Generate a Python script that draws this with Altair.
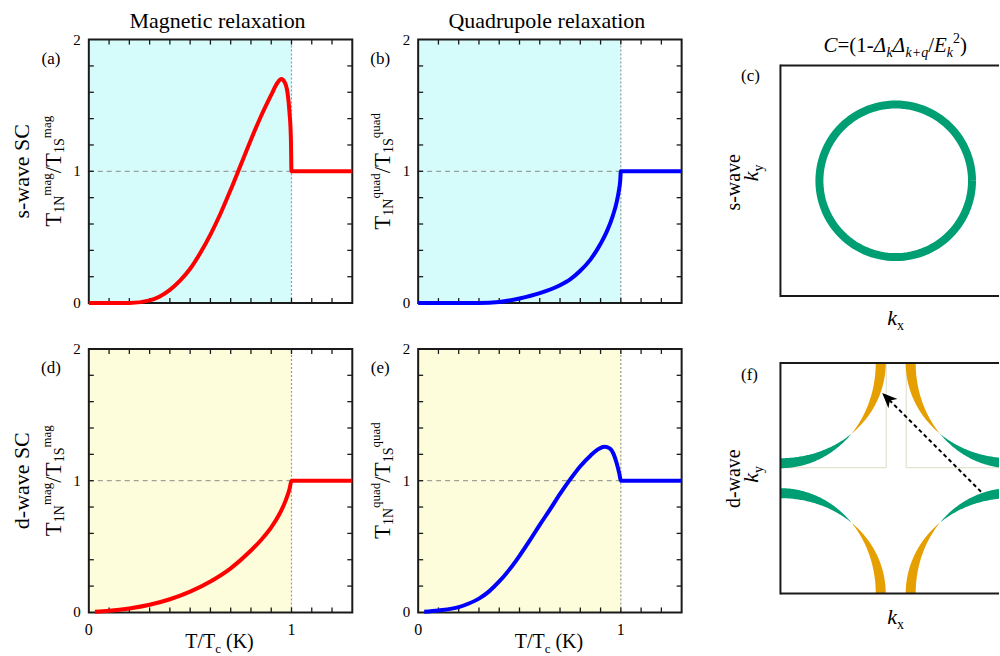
import numpy as np
import pandas as pd
import altair as alt

SERIF = "Liberation Serif"
RED, BLUE = "#ff0000", "#0000ff"
GREEN, ORANGE = "#009e73", "#e69f00"
CYAN_BG, YELLOW_BG = "#d6fbfb", "#fdfddb"
INK = "#1a1a1a"

# ---- relaxation-rate ratios T1N/T1S versus T/Tc ----
a_x = [0.0, 0.2, 0.3, 0.35, 0.4, 0.45, 0.5, 0.55, 0.6, 0.65, 0.7, 0.75, 0.8, 0.85,
       0.9, 0.93, 0.95, 0.965, 0.98, 0.99, 0.997, 1.0, 1.3]
a_y = [0.0, 0.0, 0.02, 0.05, 0.1, 0.17, 0.26, 0.38, 0.52, 0.68, 0.86, 1.05, 1.24, 1.42,
       1.58, 1.67, 1.70, 1.68, 1.6, 1.45, 1.25, 1.0, 1.0]

b_x = [0.0, 0.3, 0.4, 0.5, 0.6, 0.7, 0.75, 0.8, 0.85, 0.9, 0.93, 0.96, 0.98, 0.99,
       0.997, 1.0, 1.3]
b_y = [0.0, 0.0, 0.008, 0.035, 0.075, 0.135, 0.18, 0.245, 0.33, 0.45, 0.54, 0.66, 0.77,
       0.85, 0.93, 1.0, 1.0]

d_x = [0.03, 0.1, 0.2, 0.3, 0.4, 0.5, 0.6, 0.7, 0.8, 0.85, 0.9, 0.94, 0.97, 0.99, 1.0, 1.3]
d_y = [0.005, 0.012, 0.03, 0.058, 0.1, 0.158, 0.235, 0.335, 0.47, 0.55, 0.645, 0.745,
       0.845, 0.935, 1.0, 1.0]

e_x = [0.03, 0.1, 0.2, 0.25, 0.3, 0.35, 0.4, 0.45, 0.5, 0.55, 0.6, 0.65, 0.7, 0.75, 0.8,
       0.85, 0.89, 0.92, 0.945, 0.965, 0.98, 0.993, 1.0, 1.3]
e_y = [0.005, 0.015, 0.04, 0.068, 0.105, 0.16, 0.235, 0.325, 0.43, 0.545, 0.665, 0.78,
       0.9, 1.01, 1.11, 1.19, 1.24, 1.257, 1.245, 1.2, 1.13, 1.05, 1.0, 1.0]

X_MAX_T, Y_MAX_T, TC = 1.3, 2.0, 1.0
TICK_X = [round(0.1 * i, 1) for i in range(1, 13)]
TICK_Y = [round(0.2 * i, 1) for i in range(1, 10)]
Y_LABELS = [0, 1, 2]
X_LABELS = [0, 1]

# ---- k-space sketches (square Brillouin zone from -1 to 1) ----
K_XDOM = [-1.2857, 0.8961]
C_YDOM = [-1.0606, 1.2251]
F_YDOM = [-1.1645, 1.1212]
RING_R = 0.662
ARC_R = 0.87
Q_TAIL = (0.74, -0.117)
Q_TIP = (-0.117, 0.74)
TILE_X = [-0.082, 0.091]
TILE_Y = 0.091

PW = PH = 264
KW = 252

ADV = {'T': .611, '1': .5, 'N': .722, 'S': .556, 'm': .778, 'a': .444, 'g': .5,
       'q': .5, 'u': .5, 'd': .5, '/': .278, 'c': .444, ' ': .25, '(': .333,
       ')': .333, 'K': .722, 'k': .444, 'y': .444, 'x': .444, 'C': .667,
       '=': .564, '-': .333, 'Δ': .612, '+': .675, 'E': .611, '2': .5}


def rich(segs, x, y, angle=0):
    """Inline text runs with sub/superscripts; x,y = centre along the run / baseline."""
    widths = [sum(ADV.get(ch, .5) for ch in t) * s for t, s, _, _ in segs]
    pos = -sum(widths) / 2
    out = []
    for (t, s, sh, it), w in zip(segs, widths):
        lead = (len(t) - len(t.lstrip(" "))) * ADV[" "] * s
        p = pos + lead
        if angle == 0:
            px, py = x + p, y + sh
        else:
            px, py = x + sh, y - p
        out.append(
            alt.Chart(pd.DataFrame({"t": [t.strip()]}))
            .mark_text(align="left", baseline="alphabetic", font=SERIF, fontSize=s,
                       fontStyle="italic" if it else "normal", angle=angle, color="black")
            .encode(x=alt.value(px), y=alt.value(py), text="t:N")
        )
        pos += w
    return out


def label(text, x, y, size, angle=0, italic=False, align="center", baseline="middle"):
    return (
        alt.Chart(pd.DataFrame({"t": [text]}))
        .mark_text(align=align, baseline=baseline, font=SERIF, fontSize=size, angle=angle,
                   fontStyle="italic" if italic else "normal", color="black")
        .encode(x=alt.value(x), y=alt.value(y), text="t:N")
    )


def ytitle(kind):
    F, f, f2 = 23, 14, 13
    return [("T", F, 0, False), ("1N", f, 3, False), (kind, f2, -10, False),
            ("/T", F, 0, False), ("1S", f, 3, False), (kind, f2, -10, False)]


def t_panel(xs, ys, color, shade, kind, letter, bottom, title=None, row=None, anchors=()):
    xsc = alt.Scale(domain=[0, X_MAX_T], nice=False, zero=False)
    ysc = alt.Scale(domain=[0, Y_MAX_T], nice=False, zero=False)

    def X(f):
        return alt.X(f"{f}:Q", scale=xsc, axis=None)

    def Y(f):
        return alt.Y(f"{f}:Q", scale=ysc, axis=None)

    box = pd.DataFrame({"x1": [0], "x2": [TC], "y1": [0], "y2": [Y_MAX_T]})
    full = pd.DataFrame({"x1": [0], "x2": [X_MAX_T], "y1": [0], "y2": [Y_MAX_T]})
    layers = [
        alt.Chart(box).mark_rect(color=shade).encode(x=X("x1"), x2="x2:Q", y=Y("y1"), y2="y2:Q"),
        alt.Chart(pd.DataFrame({"x1": [0], "x2": [TC], "y": [1]}))
        .mark_rule(color="#8a8a8a", strokeWidth=1, strokeDash=[5, 4])
        .encode(x=X("x1"), x2="x2:Q", y=Y("y")),
        alt.Chart(pd.DataFrame({"x": [TC], "y1": [0], "y2": [Y_MAX_T]}))
        .mark_rule(color="#999999", strokeWidth=1.2, strokeDash=[2, 2])
        .encode(x=X("x"), y=Y("y1"), y2="y2:Q"),
        alt.Chart(full).mark_rect(filled=False, color=INK, strokeWidth=2)
        .encode(x=X("x1"), x2="x2:Q", y=Y("y1"), y2="y2:Q"),
    ]
    ty = pd.DataFrame({"v": TICK_Y})
    tx = pd.DataFrame({"v": TICK_X})
    tick = dict(color=INK, strokeWidth=1.3)
    layers += [
        alt.Chart(ty).mark_rule(**tick).encode(y=Y("v"), x=alt.value(0), x2=alt.value(5)),
        alt.Chart(ty).mark_rule(**tick).encode(y=Y("v"), x=alt.value(PW - 5), x2=alt.value(PW)),
        alt.Chart(tx).mark_rule(**tick).encode(x=X("v"), y=alt.value(PH), y2=alt.value(PH - 5)),
        alt.Chart(tx).mark_rule(**tick).encode(x=X("v"), y=alt.value(0), y2=alt.value(5)),
    ]
    # tick labels
    layers.append(
        alt.Chart(pd.DataFrame({"v": Y_LABELS, "t": [str(v) for v in Y_LABELS]}))
        .mark_text(align="right", baseline="middle", font=SERIF, fontSize=15, color="black")
        .encode(y=Y("v"), x=alt.value(-8), text="t:N")
    )
    if bottom:
        layers.append(
            alt.Chart(pd.DataFrame({"v": X_LABELS, "t": [str(v) for v in X_LABELS]}))
            .mark_text(align="center", baseline="alphabetic", font=SERIF, fontSize=16, color="black")
            .encode(x=X("v"), y=alt.value(PH + 23), text="t:N")
        )
    curve = pd.DataFrame({"x": xs, "y": ys, "i": range(len(xs))})
    layers.append(
        alt.Chart(curve).mark_line(color=color, strokeWidth=4, interpolate="monotone")
        .encode(x=X("x"), y=Y("y"), order="i:Q")
    )
    layers += rich(ytitle(kind), -28, PH / 2, angle=270)
    layers.append(label(f"({letter})", -38, 19, 17))
    if bottom:
        layers += rich([("T/T", 20, 0, False), ("c", 13, 5, False), (" (K)", 20, 0, False)],
                       131, 300)
    if title:
        layers.append(label(title, 129, -12, 22, baseline="alphabetic"))
    if row:
        layers.append(label(row, -60, PH / 2, 22, angle=270, baseline="alphabetic"))
    for ax, ay in anchors:
        layers.append(
            alt.Chart(pd.DataFrame({"t": [0]})).mark_rule(color="white", strokeWidth=1)
            .encode(x=alt.value(ax), x2=alt.value(ax + 1), y=alt.value(ay))
        )
    return alt.layer(*layers).properties(width=PW, height=PH)


def arcs_frame():
    rows = []
    xmax = K_XDOM[1]
    for cx in (-1, 1):
        for cy in (-1, 1):
            lo = 0.0
            if cx == 1:
                lo = np.degrees(np.arcsin((1 - xmax) / ARC_R))
            for part, a0, a1 in (("green", lo, 45.0), ("orange", max(lo, 45.0), 90.0)):
                if a1 <= a0:
                    continue
                for i, phi in enumerate(np.linspace(a0, a1, 60)):
                    p = np.radians(phi)
                    rows.append({
                        "x": cx * (1 - ARC_R * np.sin(p)),
                        "y": cy * (1 - ARC_R * np.cos(p)),
                        "w": abs(np.cos(2 * p)),
                        "part": part, "seg": f"{cx}{cy}{part}", "i": i,
                    })
    return pd.DataFrame(rows)


def k_panel(ydom, letter, wave, fermi, title=False):
    xmax = K_XDOM[1]
    xsc = alt.Scale(domain=K_XDOM, nice=False, zero=False)
    ysc = alt.Scale(domain=ydom, nice=False, zero=False)

    def X(f):
        return alt.X(f"{f}:Q", scale=xsc, axis=None)

    def Y(f):
        return alt.Y(f"{f}:Q", scale=ysc, axis=None)

    layers = []
    if fermi == "ring":
        th = np.radians(np.arange(0, 361, 3))
        ring = pd.DataFrame({"x": RING_R * np.cos(th), "y": RING_R * np.sin(th),
                             "i": range(len(th))})
        layers.append(
            alt.Chart(ring).mark_line(color=GREEN, strokeWidth=8, clip=True)
            .encode(x=X("x"), y=Y("y"), order="i:Q")
        )
    else:
        tiles = pd.DataFrame({
            "x1": [TILE_X[0], -1, TILE_X[1], TILE_X[1]],
            "x2": [TILE_X[0], TILE_X[0], TILE_X[1], xmax],
            "y1": [TILE_Y, TILE_Y, TILE_Y, TILE_Y],
            "y2": [1, TILE_Y, 1, TILE_Y],
        })
        layers.append(
            alt.Chart(tiles).mark_rule(color="#dcdcc6", strokeWidth=1, clip=True)
            .encode(x=X("x1"), x2="x2:Q", y=Y("y1"), y2="y2:Q")
        )
        layers.append(
            alt.Chart(arcs_frame()).mark_trail(clip=True)
            .encode(
                x=X("x"), y=Y("y"), order="i:Q", detail="seg:N",
                size=alt.Size("w:Q", scale=alt.Scale(domain=[0, 1], range=[0, 10]), legend=None),
                color=alt.Color("part:N", scale=alt.Scale(domain=["green", "orange"],
                                                          range=[GREEN, ORANGE]), legend=None),
            )
        )
        # blank out the band ends that poke past the zone boundary
        masks = pd.DataFrame({
            "x1": [K_XDOM[0], -1, -1], "x2": [-1, xmax, xmax],
            "y1": [ydom[0], 1, ydom[0]], "y2": [ydom[1], ydom[1], -1],
        })
        layers.append(
            alt.Chart(masks).mark_rect(color="white", clip=True)
            .encode(x=X("x1"), x2="x2:Q", y=Y("y1"), y2="y2:Q")
        )
        q = pd.DataFrame({"x1": [Q_TAIL[0]], "y1": [Q_TAIL[1]], "x2": [Q_TIP[0]], "y2": [Q_TIP[1]]})
        layers.append(
            alt.Chart(q).mark_rule(color="black", strokeWidth=2, strokeDash=[4, 3])
            .encode(x=X("x1"), y=Y("y1"), x2="x2:Q", y2="y2:Q")
        )
        layers.append(
            alt.Chart(pd.DataFrame({"x": [Q_TIP[0]], "y": [Q_TIP[1]]}))
            .mark_point(shape="M0,0L0.8,1.9L0,1.35L-0.8,1.9Z", filled=True, color="black",
                        opacity=1, size=256, angle=315, strokeWidth=0)
            .encode(x=X("x"), y=Y("y"))
        )
    frame = pd.DataFrame({"x1": [-1, -1], "x2": [xmax, xmax], "y1": [1, -1], "y2": [1, -1]})
    layers.append(
        alt.Chart(frame).mark_rule(color=INK, strokeWidth=2, clip=True)
        .encode(x=X("x1"), x2="x2:Q", y=Y("y1"), y2="y2:Q")
    )
    layers.append(
        alt.Chart(pd.DataFrame({"x": [-1], "y1": [-1], "y2": [1]}))
        .mark_rule(color=INK, strokeWidth=2, strokeCap="square")
        .encode(x=X("x"), y=Y("y1"), y2="y2:Q")
    )
    if letter == "c":
        layers.append(label("(c)", 3, 37, 17))
        layers.append(label(wave, -8, 143, 20, angle=270, baseline="alphabetic"))
        layers += rich([("k", 22, 0, True), ("y", 14, 5, False)], 11, 134, angle=270)
        layers += rich([("k", 22, 0, True), ("x", 14, 5, False)], 148, 286)
    else:
        layers.append(label("(f)", 2, 26, 17))
        layers.append(label(wave, -8, 130, 20, angle=270, baseline="alphabetic"))
        layers += rich([("k", 22, 0, True), ("y", 14, 5, False)], 11, 126, angle=270)
        layers += rich([("k", 22, 0, True), ("x", 14, 5, False)], 148, 276)
    if title:
        layers += rich([
            ("C", 21, 0, True), ("=(1-", 21, 0, False), ("Δ", 21, 0, True), ("k", 14, 5, True),
            ("Δ", 21, 0, True), ("k+q", 14, 5, True), ("/", 21, 0, False), ("E", 21, 0, True),
            ("k", 14, 5, True), ("2", 14, -9, False), (")", 21, 0, False),
        ], 148, 12)
    return alt.layer(*layers).properties(width=KW, height=PH,
                                         view=alt.ViewBackground(stroke="transparent"))


pa = t_panel(a_x, a_y, RED, CYAN_BG, "mag", "a", False, title="Magnetic relaxation",
             row="s-wave SC", anchors=[(-87.5, -37.5)])
pb = t_panel(b_x, b_y, BLUE, CYAN_BG, "quad", "b", False, title="Quadrupole relaxation")
pc = k_panel(C_YDOM, "c", "s-wave", "ring", title=True)
pd_ = t_panel(d_x, d_y, RED, YELLOW_BG, "mag", "d", True, row="d-wave SC",
              anchors=[(-87.5, 307.5)])
pe = t_panel(e_x, e_y, BLUE, YELLOW_BG, "quad", "e", True)
pf = k_panel(F_YDOM, "f", "d-wave", "arcs")

chart = (
    alt.concat(pa, pb, pc, pd_, pe, pf, columns=3, spacing={"row": 46, "column": 66},
               bounds="flush", align="each")
    .properties(padding=0, background="white")
    .configure_view(stroke="transparent")
)

chart.save("out.html", embed_options={"renderer": "svg", "actions": False})
